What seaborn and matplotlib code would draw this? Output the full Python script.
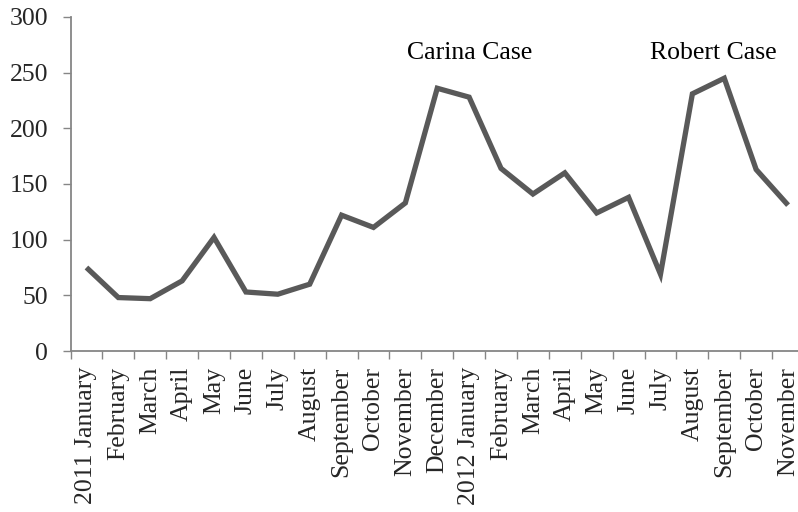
import matplotlib
matplotlib.use("Agg")
import matplotlib.pyplot as plt
import seaborn as sns
import pandas as pd
import numpy as np

months = ["2011 January", "February", "March", "April", "May", "June", "July",
          "August", "September", "October", "November", "December",
          "2012 January", "February", "March", "April", "May", "June", "July",
          "August", "September", "October", "November"]
counts = [75, 48, 47, 63, 102, 53, 51, 60, 122, 111, 133, 236,
          228, 164, 141, 160, 124, 138, 69, 231, 245, 163, 131]

case_labels = ["Carina Case", "Robert Case"]
case_x = [12.0, 19.65]
case_y = [268, 268]

sns.set_theme(style="white")
plt.rcParams["font.family"] = ["Liberation Serif", "DejaVu Serif"]

df = pd.DataFrame({"pos": np.arange(len(months)), "count": counts})

fig = plt.figure(figsize=(7.98, 5.12), dpi=100)
ax = fig.add_axes([70.5 / 798, 161 / 512, 733.5 / 798, 334 / 512])

sns.lineplot(data=df, x="pos", y="count", ax=ax, color="#595959",
             linewidth=3.8, solid_joinstyle="miter", solid_capstyle="butt")

ax.set_xlim(-0.5, len(months) - 0.5)
ax.set_ylim(0, 300)
ax.set_yticks(range(0, 301, 50))

# category boundaries carry the tick marks, labels sit at category centres
ax.set_xticks(np.arange(len(months) + 1) - 0.5)
ax.set_xticklabels([])
ax.set_xticks(np.arange(len(months)), minor=True)
ax.set_xticklabels(months, minor=True, rotation=90, fontsize=18.5)
ax.tick_params(axis="x", which="major", direction="out", length=5.5,
               width=1.0, color="#868686", bottom=True)
ax.tick_params(axis="x", which="minor", length=0, pad=11.5)
ax.tick_params(axis="y", direction="out", length=5.5, width=1.0,
               color="#868686", left=True, pad=10.5, labelsize=18.5)

for side in ["top", "right"]:
    ax.spines[side].set_visible(False)
for side in ["left", "bottom"]:
    ax.spines[side].set_color("#868686")
    ax.spines[side].set_linewidth(1.3)

ax.set_xlabel("")
ax.set_ylabel("")

for lbl, x, y in zip(case_labels, case_x, case_y):
    ax.text(x, y, lbl, ha="center", va="center", fontsize=18.5, color="black")

fig.savefig("out.png", dpi=100)
